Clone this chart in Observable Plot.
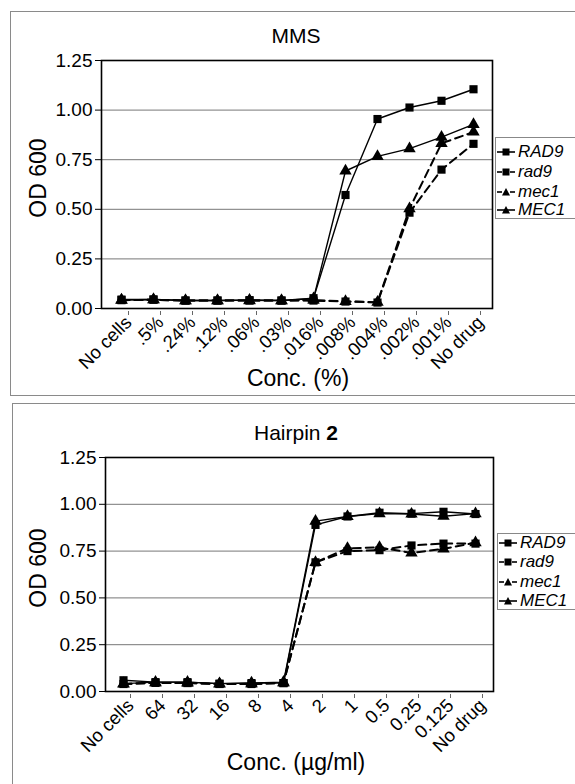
<!DOCTYPE html>
<html>
<head>
<meta charset="utf-8">
<script src="https://cdn.jsdelivr.net/npm/d3@7"></script>
<script src="https://cdn.jsdelivr.net/npm/@observablehq/plot@0.6"></script>
<style>
  html, body { margin:0; padding:0; width:575px; height:784px; overflow:hidden; background:#fff; }
  body { position:relative; font-family:"Liberation Sans", Arial, sans-serif; color:#000; }
  .panel { position:absolute; border:1px solid #8a8a8a; box-sizing:border-box; }
  .abs { position:absolute; white-space:nowrap; transform:translate(-50%,-50%); }
  .ttl { font-size:21px; }
  .ylab { font-size:23px; transform:translate(-50%,-50%) rotate(-90deg); }
  .xlab { font-size:23px; }
  .legend { position:absolute; border:1px solid #888; background:#fff; box-sizing:border-box; width:120px; }
  .legend .row { position:absolute; left:1px; height:17px; display:flex; align-items:center; font-style:italic; font-size:17px; line-height:17px; }
  .legend svg { display:block; margin-right:2px; }
  .plotwrap { position:absolute; left:0; }
  .plotwrap svg { overflow:visible; }
  .plotwrap svg g[aria-label="y-axis tick label"] text { font-size:19px !important; }
  .plotwrap svg g[aria-label="x-axis tick label"] text { font-size:18.5px !important; }
</style>
</head>
<body>
<div class="panel" style="left:10px; top:11px; width:600px; height:385px;"></div>
<div class="panel" style="left:12px; top:403px; width:600px; height:420px;"></div>

<div id="p1" class="plotwrap" style="top:0px;"></div>
<div id="p2" class="plotwrap" style="top:395px;"></div>

<div class="abs ttl" style="left:296px; top:36px;">MMS</div>
<div class="abs ylab" style="left:38px; top:178px;">OD 600</div>
<div class="abs xlab" style="left:298px; top:378px;">Conc. (%)</div>

<div class="abs ttl" style="left:296px; top:433px;">Hairpin <b>2</b></div>
<div class="abs ylab" style="left:38px; top:568px;">OD 600</div>
<div class="abs xlab" style="left:296px; top:762px;">Conc. (µg/ml)</div>

<div id="leg1" class="legend" style="left:495px; top:137px; height:82px;"></div>
<div id="leg2" class="legend" style="left:497px; top:533px; height:77px;"></div>

<script>
// ---------- data ----------
const seriesNames = ["RAD9", "rad9", "mec1", "MEC1"];
const seriesDashed = ["rad9", "mec1"];
const seriesSquare = ["RAD9", "rad9"];

const mmsConc = ["No cells", ".5%", ".24%", ".12%", ".06%", ".03%", ".016%", ".008%", ".004%", ".002%", ".001%", "No drug"];
const mmsRAD9 = [0.045, 0.046, 0.04, 0.04, 0.042, 0.04, 0.052, 0.572, 0.955, 1.013, 1.047, 1.105];
const mmsrad9 = [0.042, 0.044, 0.04, 0.04, 0.04, 0.04, 0.04, 0.035, 0.03, 0.483, 0.70, 0.83];
const mmsmec1 = [0.042, 0.044, 0.04, 0.04, 0.04, 0.04, 0.042, 0.036, 0.032, 0.503, 0.832, 0.89];
const mmsMEC1 = [0.043, 0.045, 0.04, 0.04, 0.042, 0.04, 0.05, 0.693, 0.767, 0.806, 0.864, 0.928];

const hpConc = ["No cells", "64", "32", "16", "8", "4", "2", "1", "0.5", "0.25", "0.125", "No drug"];
const hpRAD9 = [0.06, 0.05, 0.05, 0.042, 0.045, 0.045, 0.89, 0.935, 0.955, 0.95, 0.96, 0.948];
const hprad9 = [0.04, 0.046, 0.045, 0.04, 0.04, 0.045, 0.69, 0.75, 0.755, 0.78, 0.79, 0.79];
const hpmec1 = [0.04, 0.046, 0.045, 0.04, 0.04, 0.046, 0.69, 0.765, 0.77, 0.74, 0.762, 0.795];
const hpMEC1 = [0.042, 0.05, 0.05, 0.042, 0.046, 0.05, 0.91, 0.935, 0.95, 0.948, 0.936, 0.95];

const yTicks = [0, 0.25, 0.5, 0.75, 1.0, 1.25];
const gridTicks = [0.25, 0.5, 0.75, 1.0];

// ---------- build tables ----------
function table(conc, arrays) {
  const rows = [];
  seriesNames.forEach((s, i) => {
    arrays[i].forEach((v, j) => rows.push({series: s, conc: conc[j], od: v}));
  });
  return rows;
}
const mmsData = table(mmsConc, [mmsRAD9, mmsrad9, mmsmec1, mmsMEC1]);
const hpData = table(hpConc, [hpRAD9, hprad9, hpmec1, hpMEC1]);

function chart(data, conc, m) {
  const solid = data.filter(d => !seriesDashed.includes(d.series));
  const dashed = data.filter(d => seriesDashed.includes(d.series));
  const sq = data.filter(d => seriesSquare.includes(d.series));
  const tri = data.filter(d => !seriesSquare.includes(d.series));
  return Plot.plot({
    width: 575,
    height: m.height,
    marginLeft: m.left, marginRight: m.right, marginTop: m.top, marginBottom: m.bottom,
    style: {fontFamily: "'Liberation Sans', Arial, sans-serif", fontSize: "18px", color: "#000", background: "transparent", overflow: "visible"},
    x: {type: "point", domain: conc, padding: 0.5},
    y: {domain: [0, 1.25]},
    marks: [
      Plot.ruleY(gridTicks, {stroke: "#777", strokeWidth: 1}),
      Plot.axisY({ticks: yTicks, tickFormat: d3.format(".2f"), tickSize: 6, tickPadding: 3, label: null, stroke: "#000"}),
      Plot.axisX({tickRotate: -45, tickSize: 4, tickPadding: 4, label: null, stroke: "#666", textAnchor: "end", dx: 7, dy: 3}),
      Plot.line(solid, {x: "conc", y: "od", z: "series", stroke: "#000", strokeWidth: 1.4}),
      Plot.line(dashed, {x: "conc", y: "od", z: "series", stroke: "#000", strokeWidth: 2, strokeDasharray: "8,5"}),
      Plot.dot(sq, {x: "conc", y: "od", symbol: "square", r: 4.6, fill: "#000", stroke: "none"}),
      Plot.dot(tri, {x: "conc", y: "od", symbol: "triangle", r: 4.6, fill: "#000", stroke: "none"}),
      Plot.frame({stroke: "#000", strokeWidth: 1.6})
    ]
  });
}

document.getElementById("p1").append(chart(mmsData, mmsConc, {height: 390, left: 101, right: 83, top: 60, bottom: 82}));
document.getElementById("p2").append(chart(hpData, hpConc, {height: 389, left: 105, right: 82, top: 62, bottom: 93}));

// ---------- legends ----------
function legend(el, rowTops) {
  seriesNames.forEach((s, i) => {
    const row = document.createElement("div");
    row.className = "row";
    row.style.top = rowTops[i] + "px";
    const dashed = seriesDashed.includes(s);
    const square = seriesSquare.includes(s);
    const marker = square
      ? '<rect x="5.5" y="5.5" width="7" height="7" fill="#000"/>'
      : '<path d="M9,5 L13,12.5 L5,12.5 Z" fill="#000"/>';
    const line = dashed
      ? '<line x1="0" x2="5" y1="9" y2="9" stroke="#000" stroke-width="1.6"/><line x1="13" x2="18" y1="9" y2="9" stroke="#000" stroke-width="1.6"/>'
      : '<line x1="0" x2="18" y1="9" y2="9" stroke="#000" stroke-width="1.6"/>';
    row.innerHTML = '<svg width="19" height="17">' + line + marker + '</svg><span>' + s + '</span>';
    el.append(row);
  });
}
legend(document.getElementById("leg1"), [5, 25, 45, 63]);
legend(document.getElementById("leg2"), [0, 19, 39, 58]);
</script>
</body>
</html>
